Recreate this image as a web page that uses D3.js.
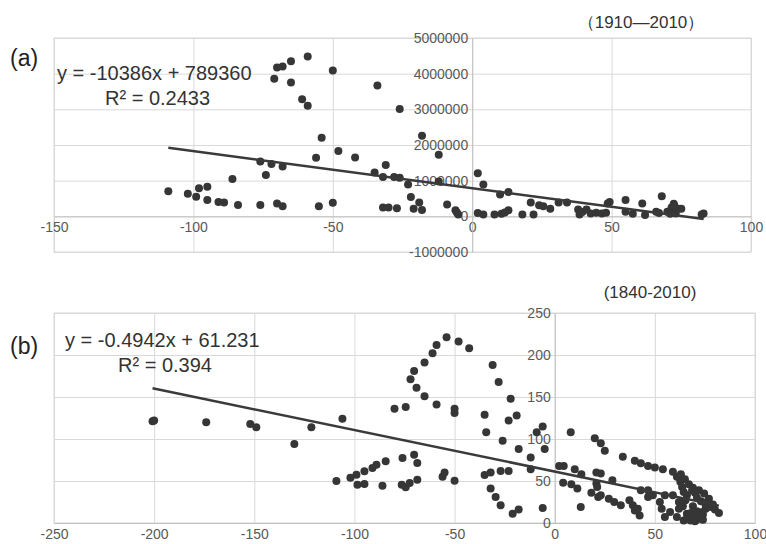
<!DOCTYPE html>
<html>
<head>
<meta charset="utf-8">
<script src="https://cdn.jsdelivr.net/npm/d3@7"></script>
<style>
  body { margin: 0; background: #fff; }
  text { font-family: "Liberation Sans", Arial, sans-serif; }
</style>
</head>
<body>
<div id="container"></div>
<script>
/*** DATA ***/
// panel (a) 1910-2010 : [x, y]
const pointsA = [
  [-109,700000],[-102,630000],[-99,550000],[-98,790000],[-95,830000],[-95,460000],[-91,400000],[-89,390000],
  [-86,1050000],[-84,320000],[-76,320000],[-76,1540000],[-74,1160000],[-72,1470000],[-68,1400000],[-70,360000],[-68,280000],
  [-71,3860000],[-70,4170000],[-68,4200000],[-65,4350000],[-65,3750000],[-61,3280000],[-59,3100000],[-59,4480000],
  [-50,4090000],[-54,2200000],[-56,1640000],[-48,1830000],[-42,1650000],[-55,280000],[-50,380000],[-34,3670000],
  [-26,3010000],[-35,1230000],[-31,1440000],[-32,1100000],[-28,1100000],[-26,1080000],[-32,250000],[-30,250000],[-27,230000],
  [-18,2260000],[-12,1730000],[-12,980000],[-23,890000],[-22,540000],[-19,390000],[-21,210000],[-18,180000],
  [-9,330000],[-6,170000],[-5,50000],[-5.5,110000],
  [2,1210000],[4,890000],[2,90000],[4,50000],[8,50000],[10.5,70000],[10,610000],[13,680000],[13,170000],[11.7,110000],
  [18,50000],[21,390000],[22,50000],[24,310000],[25.5,280000],[28,210000],[31,390000],[34,390000],[38,190000],
  [38.5,50000],[39.5,120000],[41,190000],[42.5,80000],[44.5,100000],[46.5,80000],[48,100000],[48.6,360000],[49.3,400000],
  [55,460000],[55,130000],[57.6,70000],[61,360000],[62,40000],[68,560000],[66,130000],[67,90000],[70,130000],
  [71.5,250000],[72.3,350000],[74,210000],[75,210000],[71,70000],[73,80000],[72.5,300000],[83,80000],[82.3,50000]
];
// panel (b) 1840-2010 : [x, y]
const pointsB = [
  [-200.8,121],[-200,122],[-174,120],[-152,118],[-149,114],[-130,94],[-121.5,114],[-106,124],
  [-109,50],[-102,54],[-99,57.5],[-95,61.5],[-98.5,45.6],[-95,46.4],[-91,65.5],[-89,69.4],[-84.4,73.4],[-86,44.4],
  [-76,77.4],[-76.4,45.6],[-74.4,42.5],[-72.4,47.6],[-70.2,81.3],[-68.6,71.4],[-68.6,51.6],
  [-80,136],[-74.4,138],[-72,171],[-70.2,181],[-69,161],[-65,191],[-65,151],[-61,202],[-59,212],[-54,221],
  [-48,216],[-42.7,208],[-59,141],[-50,136],[-50,131],[-56,55],[-55,60],[-50,50.4],
  [-35,129],[-34.2,108],[-31,188],[-28,168],[-22,148],[-19,128],[-23,122],[-26,98],[-35,57],[-32,60],[-27,62],
  [-23,62],[-32,41],[-29.5,31],[-27,21],[-21,11],[-18,16],[-18,88],[-12,78],[-12,64],[-9,108],[-6,115],[-5,88],[-6,18],
  [2.2,68],[4.5,68],[4.2,48],[8,108],[8.3,46],[10,64],[11.3,41],[13.3,58],[13,19],[18.3,36],[20,101],[20.8,60],
  [20.8,47],[21.7,31],
  [23,95],[25,86],[34,79],[40,74],[43,71],[46.6,68],[50,66],[54,64],[59,61],[61,55],[62.7,49],[63.6,43],[64.4,37],
  [66,33],[65.3,27],[68.6,39],[72,39],[74.6,35],[77,29],[79,22],[82,12],[75.4,21],
  [23,59],[21.2,43],[28.8,51],[23,33],[27,29],[29.7,25],[33,21],[37.3,27],[39,21],[40,15],[42.4,9],[41.5,17],
  [43,39],[46.6,39],[49,33],[46.6,31],[55,33],[59,33],[52.5,25],[53.4,17],[55,7],[57.6,13],[62,17],[61,7],[66,11],
  [68.6,7],[72,9],[73.7,13],[75.4,17],[67.8,3],[70.3,3],[72,5],[64.4,3],
  [63,58],[65,52],[67,46],[69,42],[70,36],[71,30],[73,26],[76,25],[78,19],[80,16],[69,20],[71,14],[74,10],[70,8],
  [66,5],[68,12],[62,25],[64,20],[70,2],[74,4]
];

const xTicksA = [-150, -100, -50, 0, 50, 100];
const yTicksA = [-1000000, 0, 1000000, 2000000, 3000000, 4000000, 5000000];
const xTicksB = [-250, -200, -150, -100, -50, 0, 50, 100];
const yTicksB = [0, 50, 100, 150, 200, 250];

// trend line: slope, intercept
const trendA = [-10386, 789360];
const trendB = [-0.4942, 61.231];

const labelsA = ["(a)", "\uFF081910\u20142010\uFF09", "y = -10386x + 789360", "R\u00B2 = 0.2433"];
const labelsB = ["(b)", "(1840-2010)", "y = -0.4942x + 61.231", "R\u00B2 = 0.394"];

/*** LAYOUT ***/
const width = 766, height = 544;
const gridColor = "#d9d9d9", tickColor = "#595959", dotColor = "#363636";
const fmt = d => String(d);   // plain hyphen minus, like the original

const svg = d3.select("#container").append("svg")
  .attr("width", width).attr("height", height);

function panel(cfg) {
  const x = d3.scaleLinear().domain(cfg.xDomain).range([cfg.left, cfg.right]);
  const y = d3.scaleLinear().domain(cfg.yDomain).range([cfg.bottom, cfg.top]);
  const g = svg.append("g");

  // gridlines
  g.append("g")
    .attr("transform", `translate(0,${cfg.bottom})`)
    .call(d3.axisBottom(x).tickValues(cfg.xTicks).tickSize(-(cfg.bottom - cfg.top)).tickFormat(""))
    .call(s => s.select(".domain").remove())
    .call(s => s.selectAll("line").attr("stroke", gridColor));
  g.append("g")
    .attr("transform", `translate(${cfg.left},0)`)
    .call(d3.axisLeft(y).tickValues(cfg.yTicks).tickSize(-(cfg.right - cfg.left)).tickFormat(""))
    .call(s => s.select(".domain").remove())
    .call(s => s.selectAll("line").attr("stroke", gridColor));
  g.append("rect")
    .attr("x", cfg.left).attr("y", cfg.top)
    .attr("width", cfg.right - cfg.left).attr("height", cfg.bottom - cfg.top)
    .attr("fill", "none").attr("stroke", gridColor);

  // axes crossing at 0
  g.append("g")
    .attr("transform", `translate(0,${y(0)})`)
    .attr("font-size", 14)
    .call(d3.axisBottom(x).tickValues(cfg.xTicks).tickSize(0).tickPadding(6).tickFormat(fmt))
    .call(s => s.select(".domain").attr("stroke", "#bfbfbf"))
    .call(s => s.selectAll("text").attr("fill", tickColor).attr("font-size", 14)
      .attr("font-family", "'Liberation Sans', Arial, sans-serif"));
  g.append("g")
    .attr("transform", `translate(${x(0)},0)`)
    .call(d3.axisLeft(y).tickValues(cfg.yTicks).tickSize(0).tickPadding(4).tickFormat(fmt))
    .call(s => s.select(".domain").attr("stroke", "#bfbfbf"))
    .call(s => s.selectAll("text").attr("fill", tickColor).attr("font-size", 14)
      .attr("font-family", "'Liberation Sans', Arial, sans-serif"));

  // points
  g.selectAll("circle.dot")
    .data(cfg.points)
    .join("circle")
    .attr("class", "dot")
    .attr("cx", d => x(d[0]))
    .attr("cy", d => y(d[1]))
    .attr("r", 4)
    .attr("fill", dotColor);

  // trend line across data range
  const ext = d3.extent(cfg.points, d => d[0]);
  const line = d3.line().x(d => x(d)).y(d => y(cfg.trend[0] * d + cfg.trend[1]));
  g.append("path")
    .attr("d", line(ext))
    .attr("stroke", "#3a3a3a").attr("stroke-width", 2.5).attr("fill", "none");

  // labels
  g.append("text").text(cfg.labels[0])
    .attr("x", 10).attr("y", cfg.tagY).style("font-size", "23px").attr("fill", "#222");
  g.append("text").text(cfg.labels[1])
    .attr("x", cfg.titleX).attr("y", cfg.titleY).attr("text-anchor", "middle")
    .style("font-size", "17px").attr("fill", "#333");
  g.append("text").text(cfg.labels[2])
    .attr("x", cfg.eqX).attr("y", cfg.eqY).style("font-size", "20px").attr("fill", "#333");
  g.append("text").text(cfg.labels[3])
    .attr("x", cfg.rX).attr("y", cfg.eqY + 25).style("font-size", "20px").attr("fill", "#333");
}

panel({
  points: pointsA, xDomain: [-150, 100], yDomain: [-1000000, 5000000],
  xTicks: xTicksA, yTicks: yTicksA, trend: trendA, labels: labelsA,
  left: 54, right: 751, top: 38, bottom: 252,
  tagY: 66, titleX: 641, titleY: 28, eqX: 57, eqY: 80, rX: 105
});

panel({
  points: pointsB, xDomain: [-250, 100], yDomain: [0, 250],
  xTicks: xTicksB, yTicks: yTicksB, trend: trendB, labels: labelsB,
  left: 54, right: 755, top: 313, bottom: 523,
  tagY: 354, titleX: 650, titleY: 298, eqX: 65, eqY: 347, rX: 118
});
</script>
</body>
</html>
